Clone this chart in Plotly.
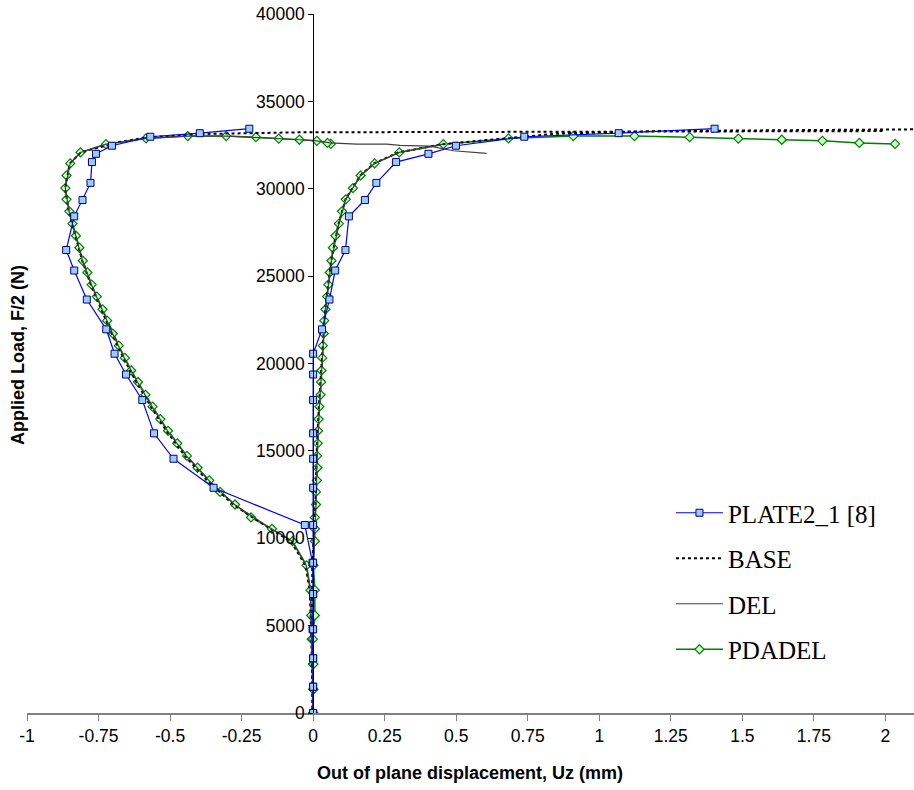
import plotly.graph_objects as go

# ---------------- data ----------------
# PLATE2_1 [8] (experiment): two gauges share the same load steps
plate_load = [0, 1505, 3130, 4789, 6810, 8600, 10757, 12890, 14550, 16004, 17910, 19370,
              20560, 21955, 23660, 25320, 26494, 28420, 29354, 30335, 31528, 32000, 32462,
              32977, 33180, 33435]
plate_left_x = [0, 0, 0, -0.002, 0, -0.002, -0.029, -0.348, -0.488, -0.556, -0.597, -0.654,
                -0.694, -0.723, -0.791, -0.835, -0.863, -0.835, -0.806, -0.778, -0.773, -0.759,
                -0.703, -0.569, -0.396, -0.223]
plate_right_x = [0, 0, 0, 0, 0, 0, 0, 0, 0, 0, 0, 0, 0, 0.031, 0.057, 0.077, 0.113, 0.125,
                 0.181, 0.221, 0.290, 0.403, 0.499, 0.738, 1.068, 1.403]

# PDADEL (FE): two gauges share the same load steps
pdadel_load = [0, 1355, 2800, 4225, 5580, 7030, 8450, 9830, 10540, 11190, 11930, 12650, 13315,
               14035, 14710, 15430, 16150, 16820, 17530, 18210, 18940, 19600, 20320, 21020,
               21715, 22450, 23100, 23830, 24510, 25210, 25880, 26625, 27310, 28000, 28706,
               29395, 30040, 30760, 31450, 32080, 32550, 32880, 33015, 33015, 32950, 32870,
               32805, 32740, 32620, 32565]
pdadel_left_x = [0, 0.001, -0.001, -0.005, -0.007, -0.009, -0.023, -0.072, -0.144, -0.217,
                 -0.273, -0.325, -0.363, -0.404, -0.441, -0.475, -0.507, -0.534, -0.561, -0.586,
                 -0.612, -0.636, -0.658, -0.679, -0.700, -0.720, -0.736, -0.756, -0.774, -0.789,
                 -0.805, -0.817, -0.829, -0.841, -0.852, -0.862, -0.866, -0.862, -0.849, -0.813,
                 -0.724, -0.584, -0.438, -0.304, -0.200, -0.120, -0.048, 0.013, 0.050, 0.062]
pdadel_right_x = [0, 0.0, 0.001, -0.001, 0.006, 0.006, 0.001, 0.006, 0.006, 0.006, 0.010, 0.010,
                  0.013, 0.015, 0.014, 0.016, 0.017, 0.019, 0.022, 0.026, 0.028, 0.029, 0.032,
                  0.034, 0.037, 0.039, 0.043, 0.049, 0.053, 0.058, 0.064, 0.069, 0.078, 0.090,
                  0.101, 0.114, 0.139, 0.166, 0.215, 0.301, 0.455, 0.683, 0.909, 1.123, 1.316,
                  1.486, 1.638, 1.780, 1.909, 2.034]

# BASE (FE)
base_left_load = [0, 4225, 7030, 8450, 9830, 10540, 11930, 13315, 14710, 16150, 17530, 18940,
                  20320, 21715, 23100, 24510, 25880, 27310, 28706, 30040, 31450, 32080, 32690,
                  32940, 33130, 33230, 33260, 33300]
base_left_x = [-0.002, -0.006, -0.012, -0.027, -0.078, -0.150, -0.280, -0.370, -0.448, -0.513,
               -0.567, -0.618, -0.663, -0.704, -0.740, -0.777, -0.807, -0.831, -0.854, -0.867,
               -0.850, -0.812, -0.674, -0.580, -0.394, -0.045, 1.0, 1.99]
base_right_load = [0, 4225, 8450, 11930, 14710, 17530, 20320, 23100, 25880, 28000, 29395, 30760,
                   31450, 32080, 32550, 32900, 33150, 33300, 33400]
base_right_x = [-0.003, -0.004, -0.003, 0.008, 0.012, 0.020, 0.031, 0.042, 0.063, 0.089, 0.113,
                0.165, 0.213, 0.298, 0.452, 0.680, 0.850, 1.200, 2.100]

# DEL (FE)
del_left_load = [0, 4225, 7030, 8450, 9830, 10540, 11930, 13315, 14710, 16150, 17530, 18940,
                 20320, 21715, 23100, 24510, 25880, 27310, 28706, 30040, 31450, 32080, 32550,
                 32880, 33015, 33015, 32950, 32870, 32805, 32740, 32630, 32555, 32555, 32480,
                 32440, 32175, 32020]
del_left_x = [0, -0.005, -0.010, -0.024, -0.074, -0.146, -0.275, -0.365, -0.443, -0.509, -0.563,
              -0.614, -0.660, -0.701, -0.738, -0.775, -0.806, -0.830, -0.853, -0.866, -0.849,
              -0.813, -0.724, -0.584, -0.438, -0.304, -0.200, -0.120, -0.048, 0.013, 0.059,
              0.152, 0.257, 0.304, 0.408, 0.490, 0.606]
del_right_load = [0, 4225, 8450, 11930, 14710, 17530, 20320, 23100, 25880, 28000, 29395, 30760,
                  31450, 32080, 32550]
del_right_x = [0, 0, 0.001, 0.010, 0.014, 0.022, 0.032, 0.043, 0.064, 0.090, 0.114, 0.166, 0.215,
               0.301, 0.455]

x_tick_vals = [-1, -0.75, -0.5, -0.25, 0, 0.25, 0.5, 0.75, 1, 1.25, 1.5, 1.75, 2]
x_tick_text = ["-1", "-0.75", "-0.5", "-0.25", "0", "0.25", "0.5", "0.75", "1", "1.25", "1.5",
               "1.75", "2"]
y_tick_vals = [0, 5000, 10000, 15000, 20000, 25000, 30000, 35000, 40000]


def path(left_x, left_y, right_x, right_y):
    """Left gauge traced from its end back to zero, then right gauge from zero outward."""
    return left_x[::-1] + right_x, left_y[::-1] + right_y


fig = go.Figure()

px_, py_ = path(pdadel_left_x, pdadel_load, pdadel_right_x, pdadel_load)
fig.add_trace(go.Scatter(
    x=px_, y=py_, name="PDADEL", mode="lines+markers", legendrank=4, legendgroup="d",
    line=dict(color="#008000", width=1.5),
    marker=dict(symbol="diamond", size=7, color="#CCFFCC", line=dict(color="#008000", width=1.2)),
))

bx, by = path(base_left_x, base_left_load, base_right_x, base_right_load)
fig.add_trace(go.Scatter(
    x=bx, y=by, name="BASE", mode="lines", legendrank=2, legendgroup="b",
    line=dict(color="#000000", width=2, dash="3px,3px"),
))

dx, dy = path(del_left_x, del_left_load, del_right_x, del_right_load)
fig.add_trace(go.Scatter(
    x=dx, y=dy, name="DEL", mode="lines", legendrank=3, legendgroup="c",
    line=dict(color="#404040", width=1.2),
))

plx, ply = path(plate_left_x, plate_load, plate_right_x, plate_load)
fig.add_trace(go.Scatter(
    x=plx, y=ply, name="PLATE2_1 [8]", mode="lines+markers", legendrank=1, legendgroup="a",
    line=dict(color="#0000FF", width=1.2),
    marker=dict(symbol="square", size=7, color="#99CCFF", line=dict(color="#000080", width=1)),
))

fig.update_layout(
    width=914, height=790,
    margin=dict(l=27, r=0, t=14, b=77, autoexpand=False),
    paper_bgcolor="white", plot_bgcolor="white",
    font=dict(family="Liberation Sans, Arial, sans-serif", size=18, color="black"),
    showlegend=True,
    legend=dict(
        x=0.726, y=(713 - 512 + 22) / 699, xanchor="left", yanchor="top",
        font=dict(family="Liberation Serif, Times New Roman, serif", size=25, color="black"),
        bgcolor="rgba(0,0,0,0)", borderwidth=0, itemwidth=47,
        traceorder="grouped", tracegroupgap=10,
    ),
    xaxis=dict(
        range=[-1, 2.1], tickvals=x_tick_vals, ticktext=x_tick_text, automargin=False,
        showgrid=False, zeroline=False, showline=True, linecolor="#808080", linewidth=2,
        ticks="outside", ticklen=6, tickcolor="#808080", tickwidth=1,
        tickfont=dict(size=17.5), anchor="y", ticklabeloverflow="allow",
    ),
    yaxis=dict(
        range=[0, 40000], tickvals=y_tick_vals, tickformat="d", automargin=False,
        showgrid=False, zeroline=False, showline=True, linecolor="black", linewidth=1,
        ticks="outside", ticklen=5, tickcolor="black",
        tickfont=dict(size=17.5), anchor="free", position=1 / 3.1,
        ticklabeloverflow="allow",
    ),
    annotations=[
        dict(text="<b>Out of plane displacement, Uz (mm)</b>", xref="paper", yref="paper",
             x=(470 - 27) / 887, y=-(773 - 713) / 699, xanchor="center", yanchor="middle",
             showarrow=False, font=dict(size=18, family="Liberation Sans, Arial, sans-serif")),
        dict(text="<b>Applied Load, F/2 (N)</b>", xref="paper", yref="paper",
             x=(18 - 27) / 887, y=(713 - 355) / 699, xanchor="center", yanchor="middle",
             textangle=-90, showarrow=False,
             font=dict(size=18, family="Liberation Sans, Arial, sans-serif")),
    ],
)

# remove the browser's default 8px page margin so the figure sits at the window origin
fig.write_html(
    "out.html",
    config={"displayModeBar": False},
    post_script="document.body.style.margin='0';"
                "document.documentElement.style.overflow='hidden';",
)
